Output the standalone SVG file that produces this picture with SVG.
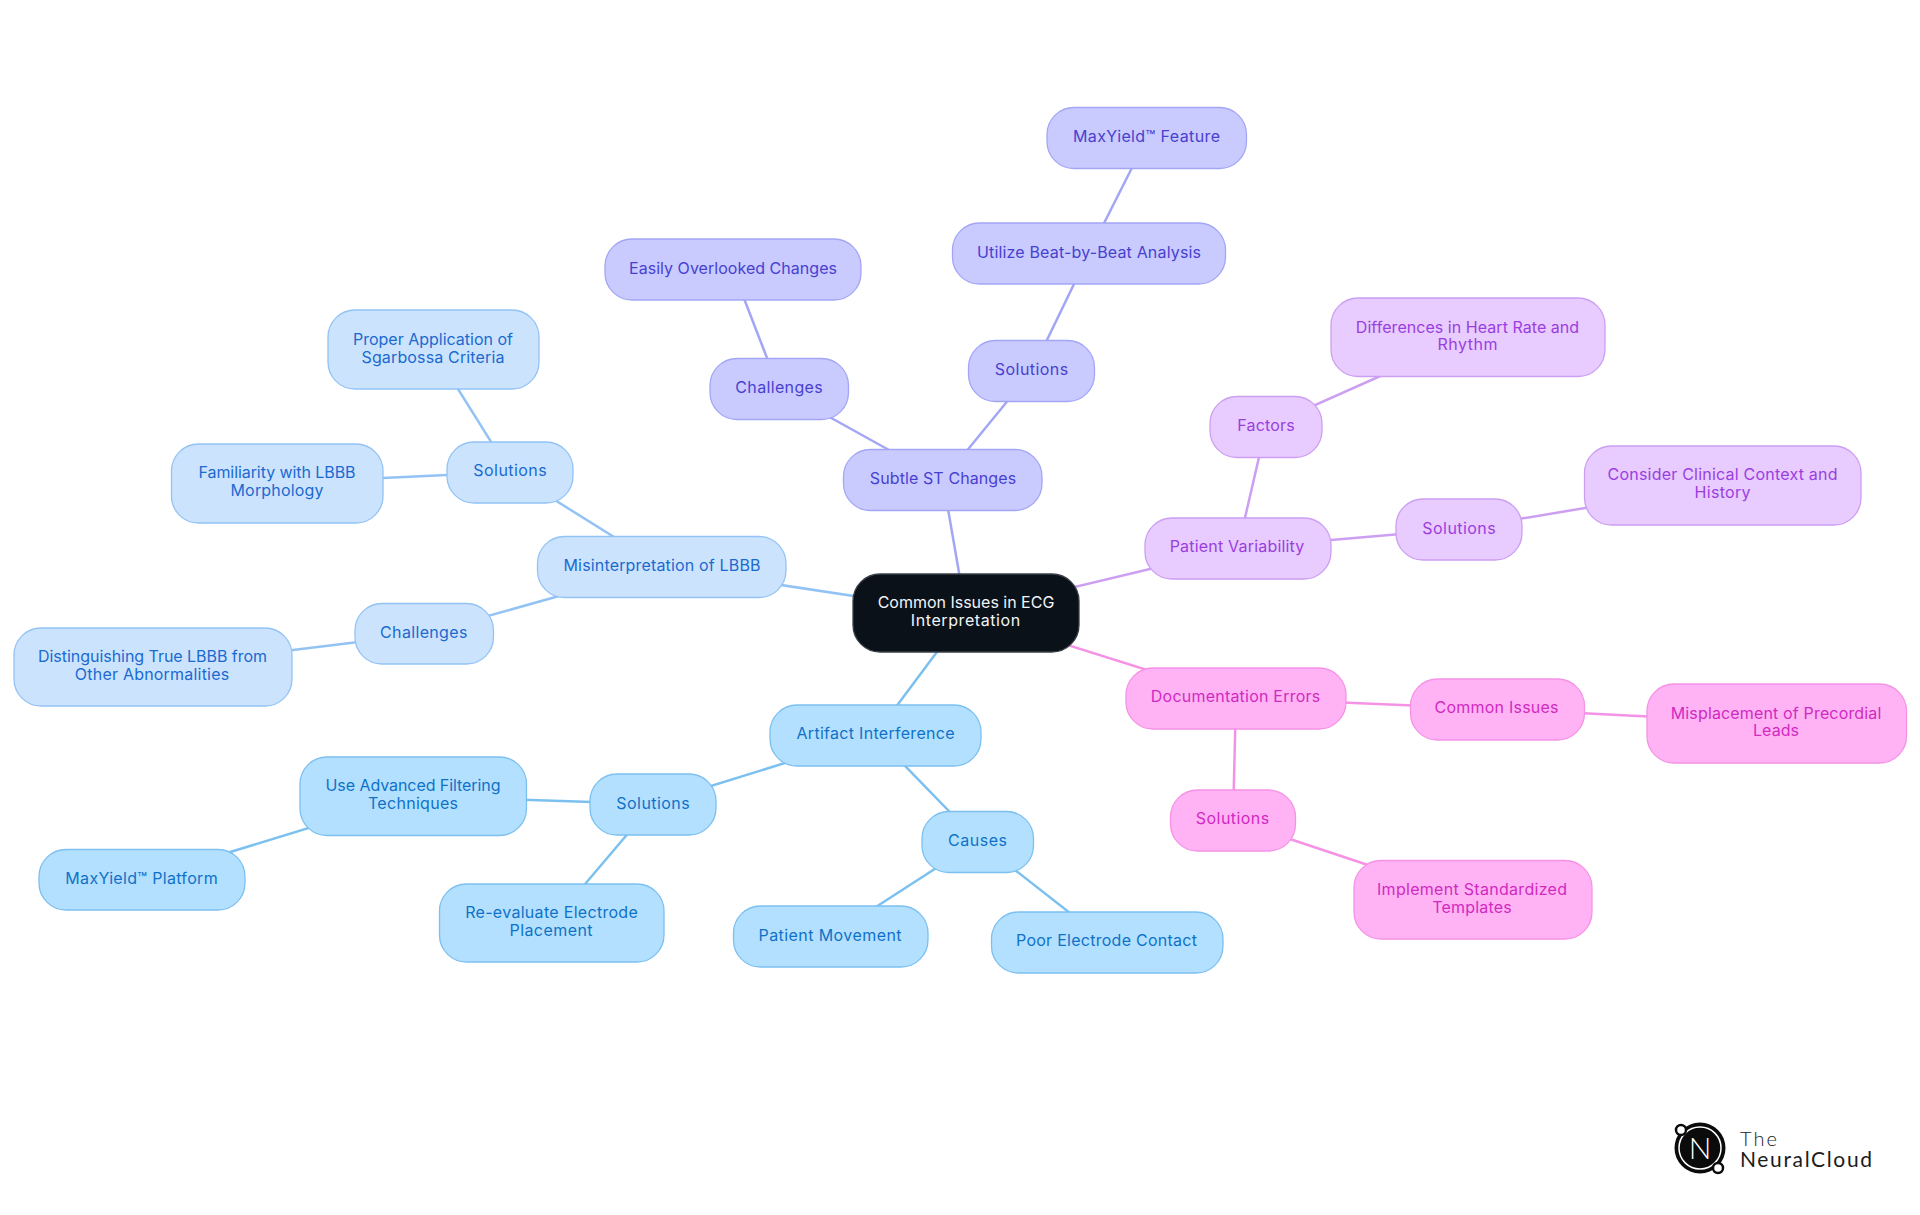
<svg xmlns="http://www.w3.org/2000/svg" width="1920" height="1215" viewBox="0 0 1920 1215">
<style>
text{font-family:"Inter","Noto Sans","Liberation Sans",sans-serif;font-size:16px;text-anchor:middle}
.n rect{stroke-width:1.3}
#connectors line{stroke-width:2.5;fill:none}
.c0 rect{fill:#0b1119;stroke:#3a4048}.c0 text{fill:#f2f4f6}
.c1 rect{fill:#c9cbff;stroke:#a3a6f5}.c1 text{fill:#4840d0}
.c2 rect{fill:#e8cbff;stroke:#cc9ff2}.c2 text{fill:#9a3ee0}
.c3 rect{fill:#ffb3f5;stroke:#f592e6}.c3 text{fill:#d02ac0}
.c4 rect{fill:#b3e0ff;stroke:#7cc0f0}.c4 text{fill:#0f72c8}
.c5 rect{fill:#cce3fd;stroke:#93c3f5}.c5 text{fill:#1a6ad0}
.l1{stroke:#a3a6f5}.l2{stroke:#cc9ff2}.l3{stroke:#f592e6}.l4{stroke:#7cc0f0}.l5{stroke:#93c3f5}
.logo text{text-anchor:start;fill:#1c1c1c;font-family:"Lato","Inter",sans-serif;font-weight:400}
</style>
<g id="connectors">
<line class="l1" x1="966" y1="613" x2="943" y2="480"/>
<line class="l1" x1="943" y1="480" x2="1032" y2="371"/>
<line class="l1" x1="1032" y1="371" x2="1089" y2="253"/>
<line class="l1" x1="1089" y1="253" x2="1147" y2="138"/>
<line class="l1" x1="943" y1="480" x2="779" y2="389"/>
<line class="l1" x1="779" y1="389" x2="733" y2="270"/>
<line class="l2" x1="966" y1="613" x2="1238" y2="548"/>
<line class="l2" x1="1238" y1="548" x2="1266" y2="427"/>
<line class="l2" x1="1266" y1="427" x2="1468" y2="337"/>
<line class="l2" x1="1238" y1="548" x2="1459" y2="529"/>
<line class="l2" x1="1459" y1="529" x2="1723" y2="485"/>
<line class="l3" x1="966" y1="613" x2="1236" y2="698"/>
<line class="l3" x1="1236" y1="698" x2="1497" y2="709"/>
<line class="l3" x1="1497" y1="709" x2="1777" y2="723"/>
<line class="l3" x1="1236" y1="698" x2="1233" y2="820"/>
<line class="l3" x1="1233" y1="820" x2="1473" y2="900"/>
<line class="l4" x1="966" y1="613" x2="875" y2="735"/>
<line class="l4" x1="875" y1="735" x2="978" y2="841"/>
<line class="l4" x1="978" y1="841" x2="831" y2="936"/>
<line class="l4" x1="978" y1="841" x2="1107" y2="942"/>
<line class="l4" x1="875" y1="735" x2="653" y2="804"/>
<line class="l4" x1="653" y1="804" x2="413" y2="796"/>
<line class="l4" x1="413" y1="796" x2="142" y2="879"/>
<line class="l4" x1="653" y1="804" x2="552" y2="923"/>
<line class="l5" x1="966" y1="613" x2="662" y2="567"/>
<line class="l5" x1="662" y1="567" x2="510" y2="472"/>
<line class="l5" x1="510" y1="472" x2="433" y2="349"/>
<line class="l5" x1="510" y1="472" x2="277" y2="483"/>
<line class="l5" x1="662" y1="567" x2="424" y2="634"/>
<line class="l5" x1="424" y1="634" x2="153" y2="667"/>
</g>
<g id="root" class="n c0"><rect x="853" y="574" width="226" height="78" rx="27"/><text x="966" y="608" textLength="176.700">Common Issues in ECG</text><text x="965.500" y="626" textLength="109.300">Interpretation</text></g>
<g id="subtle" class="n c1"><rect x="843.500" y="449.500" width="198.500" height="61" rx="27"/><text x="943" y="484" textLength="146.300">Subtle ST Changes</text></g>
<g id="st-solutions" class="n c1"><rect x="968.500" y="340.500" width="126" height="61" rx="27"/><text x="1031.500" y="375" textLength="73.300">Solutions</text></g>
<g id="st-beat" class="n c1"><rect x="952.500" y="223" width="273" height="61" rx="27"/><text x="1089" y="257.500" textLength="224">Utilize Beat-by-Beat Analysis</text></g>
<g id="st-maxyield" class="n c1"><rect x="1047" y="107.500" width="199.500" height="61" rx="27"/><text x="1146.500" y="142" textLength="147">MaxYield™ Feature</text></g>
<g id="st-challenges" class="n c1"><rect x="710" y="358.500" width="138.500" height="61" rx="27"/><text x="779" y="393" textLength="87.300">Challenges</text></g>
<g id="st-overlooked" class="n c1"><rect x="605" y="239" width="256" height="61" rx="27"/><text x="733" y="273.500" textLength="208">Easily Overlooked Changes</text></g>
<g id="pv" class="n c2"><rect x="1145" y="518" width="186" height="61" rx="27"/><text x="1237" y="552" textLength="134.700">Patient Variability</text></g>
<g id="pv-factors" class="n c2"><rect x="1210" y="396.500" width="112" height="61" rx="27"/><text x="1266" y="431" textLength="57.500">Factors</text></g>
<g id="pv-differences" class="n c2"><rect x="1331" y="298" width="274" height="78.500" rx="27"/><text x="1467.500" y="332.500" textLength="223.300">Differences in Heart Rate and</text><text x="1467.500" y="350" textLength="60">Rhythm</text></g>
<g id="pv-solutions" class="n c2"><rect x="1396" y="499" width="126" height="61" rx="27"/><text x="1459" y="533.500" textLength="73.300">Solutions</text></g>
<g id="pv-context" class="n c2"><rect x="1584.500" y="446" width="276.500" height="79" rx="27"/><text x="1722.500" y="480" textLength="230">Consider Clinical Context and</text><text x="1722.500" y="498" textLength="56">History</text></g>
<g id="de" class="n c3"><rect x="1126" y="668" width="220" height="61" rx="27"/><text x="1235.500" y="702.300" textLength="169.300">Documentation Errors</text></g>
<g id="de-common" class="n c3"><rect x="1410.500" y="679" width="174" height="61" rx="27"/><text x="1496.500" y="713" textLength="124">Common Issues</text></g>
<g id="de-misplacement" class="n c3"><rect x="1647" y="684" width="259.500" height="79" rx="27"/><text x="1776" y="718.500" textLength="210.600">Misplacement of Precordial</text><text x="1776" y="736" textLength="46">Leads</text></g>
<g id="de-solutions" class="n c3"><rect x="1170.500" y="790" width="125" height="61" rx="27"/><text x="1232.500" y="824.300" textLength="73.300">Solutions</text></g>
<g id="de-templates" class="n c3"><rect x="1354" y="860.500" width="238" height="78.500" rx="27"/><text x="1472" y="895" textLength="190">Implement Standardized</text><text x="1472" y="913" textLength="79.600">Templates</text></g>
<g id="ai" class="n c4"><rect x="770" y="705" width="211" height="61" rx="27"/><text x="875.500" y="739" textLength="158">Artifact Interference</text></g>
<g id="ai-causes" class="n c4"><rect x="922" y="811.500" width="111.500" height="61" rx="27"/><text x="977.500" y="846" textLength="58.800">Causes</text></g>
<g id="ai-movement" class="n c4"><rect x="733.500" y="906" width="194.500" height="61" rx="27"/><text x="830" y="940.500" textLength="143">Patient Movement</text></g>
<g id="ai-contact" class="n c4"><rect x="991.500" y="912" width="231.500" height="61" rx="27"/><text x="1106.500" y="946" textLength="181">Poor Electrode Contact</text></g>
<g id="ai-solutions" class="n c4"><rect x="590" y="774" width="126" height="61" rx="27"/><text x="653" y="808.500" textLength="73.300">Solutions</text></g>
<g id="ai-filtering" class="n c4"><rect x="300" y="757" width="226.500" height="78.500" rx="27"/><text x="413" y="791" textLength="175">Use Advanced Filtering</text><text x="413" y="809" textLength="90">Techniques</text></g>
<g id="ai-platform" class="n c4"><rect x="39" y="849.500" width="206" height="60.500" rx="27"/><text x="141.500" y="884" textLength="152.300">MaxYield™ Platform</text></g>
<g id="ai-electrode" class="n c4"><rect x="439.500" y="884" width="224.500" height="78" rx="27"/><text x="551.500" y="918" textLength="172.600">Re-evaluate Electrode</text><text x="551" y="936" textLength="83">Placement</text></g>
<g id="lbbb" class="n c5"><rect x="537.500" y="536.500" width="248.500" height="61" rx="27"/><text x="662" y="571" textLength="197">Misinterpretation of LBBB</text></g>
<g id="lbbb-solutions" class="n c5"><rect x="447" y="442" width="126" height="61" rx="27"/><text x="510" y="476" textLength="73.300">Solutions</text></g>
<g id="lbbb-sgarbossa" class="n c5"><rect x="328" y="310" width="211" height="79" rx="27"/><text x="433" y="344.500" textLength="160">Proper Application of</text><text x="433" y="362.500" textLength="143">Sgarbossa Criteria</text></g>
<g id="lbbb-morphology" class="n c5"><rect x="171.500" y="444" width="211.500" height="79" rx="27"/><text x="277" y="477.500" textLength="157">Familiarity with LBBB</text><text x="277" y="495.500" textLength="93">Morphology</text></g>
<g id="lbbb-challenges" class="n c5"><rect x="355" y="603.500" width="138.500" height="60.500" rx="27"/><text x="423.700" y="638" textLength="87.300">Challenges</text></g>
<g id="lbbb-distinguishing" class="n c5"><rect x="14" y="628" width="278" height="78" rx="27"/><text x="152.500" y="662" textLength="229">Distinguishing True LBBB from</text><text x="152" y="680" textLength="154.300">Other Abnormalities</text></g>
<g id="logo" class="logo">
<circle cx="1700" cy="1148" r="25.500" fill="#0b0b0b"/>
<circle cx="1700" cy="1148" r="21" fill="none" stroke="#fff" stroke-width="1.500"/>
<circle cx="1681" cy="1130" r="5" fill="#fff" stroke="#0b0b0b" stroke-width="2.500"/>
<circle cx="1718" cy="1168" r="5" fill="#fff" stroke="#0b0b0b" stroke-width="2.500"/>
<text x="1700" y="1159" style="font-size:30px;text-anchor:middle;fill:#fff;font-weight:300">N</text>
<text x="1740" y="1146" textLength="37" style="font-size:20px;font-weight:300">The</text>
<text x="1740" y="1167" textLength="132" style="font-size:21px">NeuralCloud</text>
</g>
</svg>
